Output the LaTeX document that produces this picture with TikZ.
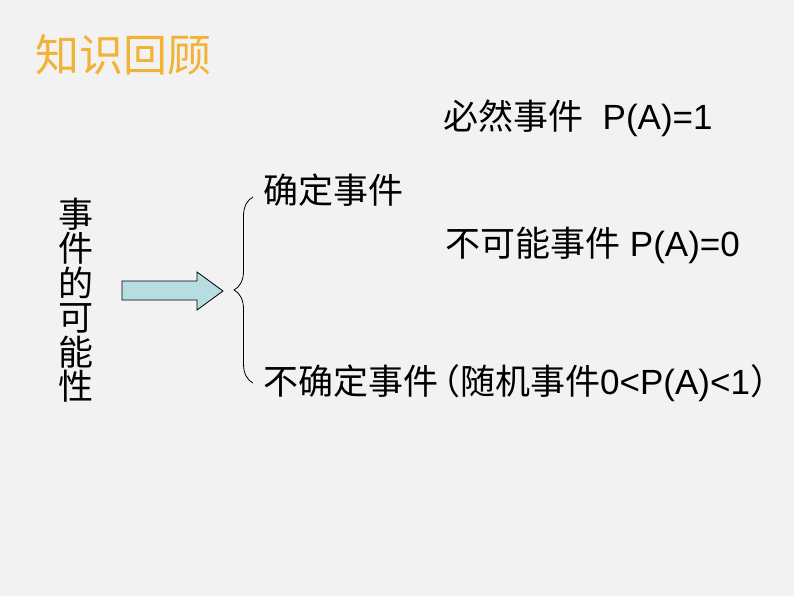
\documentclass[tikz,border=0pt]{standalone}
\usepackage{fontspec}
\usepackage{tikz}
\usetikzlibrary{decorations.pathreplacing}
\setmainfont{Liberation Sans}
\newfontfamily\cjk{Noto Sans CJK SC}

\definecolor{bgGray}{RGB}{242,242,242}
\definecolor{titleOrange}{RGB}{242,178,52}
\definecolor{arrowTeal}{RGB}{182,221,224}

\tikzset{
  lbl/.style={anchor=west,inner sep=0pt,font=\fontsize{35}{35}\selectfont},
  ttl/.style={anchor=west,inner sep=0pt,font=\cjk\fontsize{44}{44}\selectfont},
}

\begin{document}
\begin{tikzpicture}[x=1pt,y=1pt,yscale=-1,xscale=1]
%Background
\fill[bgGray] (0,0) rectangle (794,596);
\useasboundingbox (0,0) rectangle (794,596);

% Title Node
\node (ttl) at (35,55) [ttl,text=titleOrange] {知识回顾};

% Text Node
\node (side) at (76,300) [inner sep=0pt,align=center,font=\cjk\fontsize{35}{34.5}\selectfont] {事\\件\\的\\可\\能\\性};

%Shape: Right Arrow
\draw[fill=arrowTeal,line width=0.8pt,line join=miter] (122,281) -- (197,281) -- (197,272) -- (223,291) -- (197,310) -- (197,300) -- (122,300) -- cycle;

% Text Node
\node (sure) at (263,190) [lbl] {{\cjk 确定事件}};
% Text Node
\node (must) at (443,118) [lbl] {{\cjk 必然事件}\ \ P(A)=1};
% Text Node
\node (never) at (445,245) [lbl] {{\cjk 不可能事件}\ P(A)=0};
% Text Node
\node (unsure) at (263,383) [lbl] {{\cjk 不确定事件\makebox[22pt][r]{（}随机事件}0<P(A)<1{\cjk \makebox[20pt][l]{）}}};

%Brace
\coordinate (bt) at ([xshift=-10pt,yshift=7pt]sure.west);
\coordinate (bb) at ([xshift=-10pt]unsure.west);
\draw[decorate,decoration={brace,amplitude=19pt},line width=0.8pt] (bb) -- (bt);

\end{tikzpicture}
\end{document}
